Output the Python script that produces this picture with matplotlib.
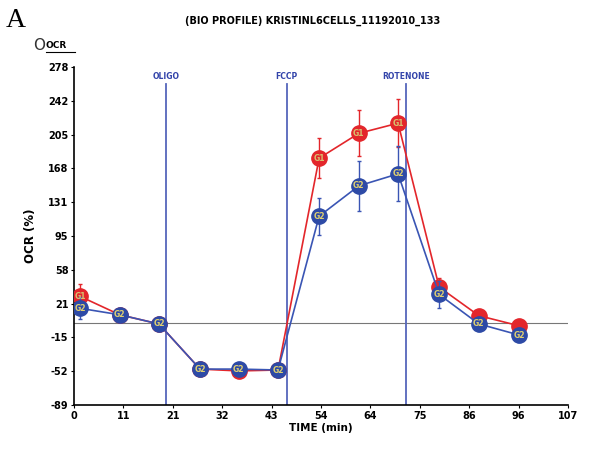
import numpy as np
import matplotlib.pyplot as plt

# time points (min) and OCR (%) for the two groups
time = [1.3, 9.9, 18.4, 27.3, 35.7, 44.2, 53.1, 61.7, 70.2, 79.1, 87.7, 96.4]
g1 = [29, 9, -1, -50, -52, -51, 179, 206, 217, 39, 8, -3]
g1_err = [13, 3, 3, 6, 5, 4, 22, 25, 26, 10, 6, 5]
g2 = [16, 9, -1, -50, -50, -51, 116, 149, 162, 31, -1, -13]
g2_err = [12, 3, 3, 5, 4, 4, 20, 27, 30, 15, 8, 8]

injections = [19.9, 46.1, 71.9]
injection_names = ['OLIGO', 'FCCP', 'ROTENONE']

xticks = [0, 10.7, 21.4, 32.1, 42.8, 53.5, 64.2, 74.9, 85.6, 96.3, 107]
xtick_labels = ['0', '11', '21', '32', '43', '54', '64', '75', '86', '96', '107']
yticks = [-89, -52.3, -15.6, 21.1, 57.8, 94.5, 131.2, 167.9, 204.6, 241.3, 278]
ytick_labels = ['-89', '-52', '-15', '21', '58', '95', '131', '168', '205', '242', '278']

red = '#e3262b'
blue = '#3a55b4'
vline_col = '#5566bb'

fig = plt.figure(figsize=(5.89, 4.66), dpi=100)
ax = fig.add_axes([0.1256, 0.1309, 0.8387, 0.7253])

ax.axhline(0, color='#777777', lw=0.8, zorder=1)
for x, name in zip(injections, injection_names):
    ax.axvline(x, ymin=0, ymax=0.95, color=vline_col, lw=1.3, zorder=1)
    ax.text(x, 268, name, color='#3344aa', fontsize=5.5, fontweight='bold',
            ha='center', va='center')

ax.errorbar(time, g1, yerr=g1_err, color=red, lw=1.2, elinewidth=1,
            capsize=1.5, marker='o', ms=11, mfc=red, mec=red, zorder=3)
ax.errorbar(time, g2, yerr=g2_err, color=blue, lw=1.2, elinewidth=1,
            capsize=1.5, marker='o', ms=11, mfc='#2d4aa6', mec='#2d4aa6', zorder=4)
# G1 labels are hidden under the G2 markers where the groups overlap
for t, v, w in zip(time, g1, g2):
    if abs(v - w) > 10:
        ax.text(t, v, 'G1', color='#d8c070', fontsize=5.5, fontweight='bold',
                ha='center', va='center', zorder=5)
for t, v in zip(time, g2):
    ax.text(t, v, 'G2', color='#e0d070', fontsize=5.5, fontweight='bold',
            ha='center', va='center', zorder=6)

ax.set_xlim(0, 107)
ax.set_ylim(-89, 278)
ax.set_xticks(xticks)
ax.set_xticklabels(xtick_labels, fontsize=7, fontweight='bold')
ax.set_yticks(yticks)
ax.set_yticklabels(ytick_labels, fontsize=7, fontweight='bold')
ax.tick_params(length=2, width=0.8, pad=2)
for s in ['top', 'right']:
    ax.spines[s].set_visible(False)
ax.spines['left'].set_linewidth(1.2)
ax.spines['bottom'].set_linewidth(1.2)

ax.set_xlabel('TIME (min)', fontsize=7.5, fontweight='bold', labelpad=2)
ax.set_ylabel('OCR (%)', fontsize=8.5, fontweight='bold', labelpad=8)

fig.text(0.53, 0.955, '(BIO PROFILE) KRISTINL6CELLS_11192010_133',
         fontsize=7, fontweight='bold', ha='center', va='center')
fig.text(0.01, 0.955, 'A', fontsize=20, family='Liberation Serif',
         ha='left', va='center')
fig.text(0.057, 0.903, 'O', fontsize=11, ha='left', va='center', color='#333333')
fig.text(0.078, 0.903, 'OCR', fontsize=6.5, fontweight='bold', ha='left',
         va='center')
fig.add_artist(plt.Line2D([0.078, 0.127], [0.888, 0.888], color='black', lw=0.8))

fig.savefig('out.png', dpi=100)
